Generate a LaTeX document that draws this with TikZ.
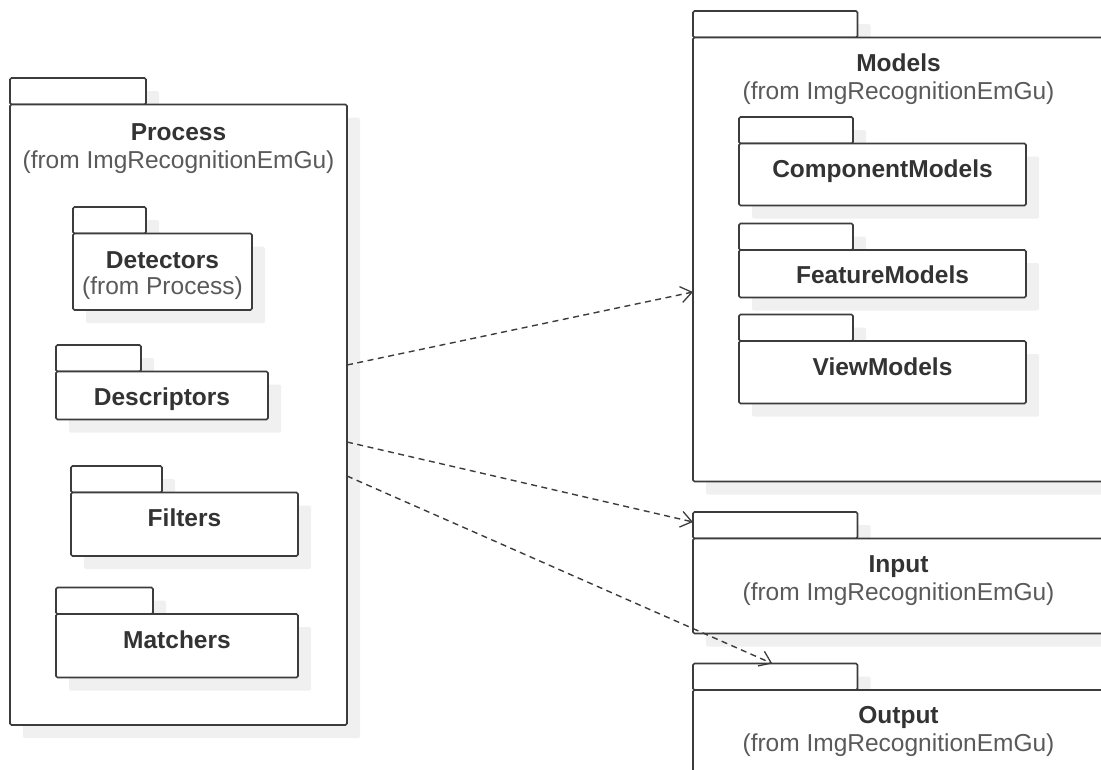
\documentclass[tikz,border=0pt]{standalone}
\usepackage{fontspec}
\setmainfont{Liberation Sans}
\usepackage{tikz}
\usetikzlibrary{arrows.meta,positioning,shadows}
\definecolor{pkgline}{HTML}{3C3C3C}
\definecolor{pkgtext}{HTML}{333333}
\definecolor{fromtext}{HTML}{5A5A5A}
\definecolor{pkgshadow}{HTML}{F0F0F0}

\begin{document}
\begin{tikzpicture}[x=1pt,y=-1pt]
\tikzset{pkg/.style={draw=pkgline,line width=1.6pt,fill=white,rounded corners=1.5pt,inner sep=0pt,outer sep=0pt,drop shadow={shadow xshift=13pt,shadow yshift=-13pt,fill=pkgshadow,opacity=1}},
pkgtab/.style={pkg,anchor=north west,minimum height=26.5pt},
pkgname/.style={inner sep=0pt,align=center,text=pkgtext,font=\fontsize{24.5}{28}\selectfont\bfseries},
dep/.style={draw=pkgline,line width=1.4pt,dash pattern=on 6pt off 4.5pt,-{Straight Barb[length=11pt,width=16pt,line width=1.3pt]}}}
\useasboundingbox (0,0) rectangle (1101,769);
\node[pkgtab,minimum width=136pt] (processtab) at (10,78) {};
\node[pkg,minimum width=337pt,minimum height=620.5pt,below right=0pt of processtab.south west] (process) {};
\node[pkgname,below=19pt of process.north] (processname) {Process\\{\mdseries\color{fromtext}(from ImgRecognitionEmGu)}};
\node[pkgtab,minimum width=73pt] (detectorstab) at (73,207) {};
\node[pkg,minimum width=179pt,minimum height=76.5pt,below right=0pt of detectorstab.south west] (detectors) {};
\node[pkgname,below=17.5pt of detectors.north] (detectorsname) {Detectors\\[-1.5pt]{\mdseries\color{fromtext}(from Process)}};
\node[pkgtab,minimum width=85pt] (descriptorstab) at (56,345) {};
\node[pkg,minimum width=212pt,minimum height=48pt,below right=0pt of descriptorstab.south west] (descriptors) {};
\node[pkgname,below=16.5pt of descriptors.north] (descriptorsname) {Descriptors};
\node[pkgtab,minimum width=91pt] (filterstab) at (71,466) {};
\node[pkg,minimum width=227pt,minimum height=63.5pt,below right=0pt of filterstab.south west] (filters) {};
\node[pkgname,below=16.5pt of filters.north] (filtersname) {Filters};
\node[pkgtab,minimum width=97pt] (matcherstab) at (56,587.5) {};
\node[pkg,minimum width=242pt,minimum height=63.5pt,below right=0pt of matcherstab.south west] (matchers) {};
\node[pkgname,below=16.5pt of matchers.north] (matchersname) {Matchers};
\node[pkgtab,minimum width=164.5pt] (modelstab) at (693,11) {};
\node[pkg,minimum width=411pt,minimum height=444pt,below right=0pt of modelstab.south west] (models) {};
\node[pkgname,below=16pt of models.north] (modelsname) {Models\\{\mdseries\color{fromtext}(from ImgRecognitionEmGu)}};
\node[pkgtab,minimum width=114pt] (componenttab) at (739,117) {};
\node[pkg,minimum width=287pt,minimum height=62pt,below right=0pt of componenttab.south west] (component) {};
\node[pkgname,below=16pt of component.north] (componentname) {ComponentModels};
\node[pkgtab,minimum width=114pt] (featuretab) at (739,223.5) {};
\node[pkg,minimum width=287pt,minimum height=47.5pt,below right=0pt of featuretab.south west] (feature) {};
\node[pkgname,below=16pt of feature.north] (featurename) {FeatureModels};
\node[pkgtab,minimum width=114pt] (viewtab) at (739,314.5) {};
\node[pkg,minimum width=287pt,minimum height=62.5pt,below right=0pt of viewtab.south west] (view) {};
\node[pkgname,below=16.5pt of view.north] (viewname) {ViewModels};
\node[pkgtab,minimum width=164.5pt] (inputtab) at (693,512) {};
\node[pkg,minimum width=411pt,minimum height=95pt,below right=0pt of inputtab.south west] (input) {};
\node[pkgname,below=17pt of input.north] (inputname) {Input\\{\mdseries\color{fromtext}(from ImgRecognitionEmGu)}};
\node[pkgtab,minimum width=164.5pt] (outputtab) at (693,663.5) {};
\node[pkg,minimum width=411pt,minimum height=100pt,below right=0pt of outputtab.south west] (output) {};
\node[pkgname,below=16pt of output.north] (outputname) {Output\\{\mdseries\color{fromtext}(from ImgRecognitionEmGu)}};
\draw[dep] ([yshift=49.75pt]process.east)--([yshift=-32.5pt]models.west);
\draw[dep] ([yshift=-27.25pt]process.east)--([yshift=3.25pt]inputtab.west);
\draw[dep] ([yshift=-61.25pt]process.east)--([xshift=-3pt]outputtab.north);
\end{tikzpicture}
\end{document}
